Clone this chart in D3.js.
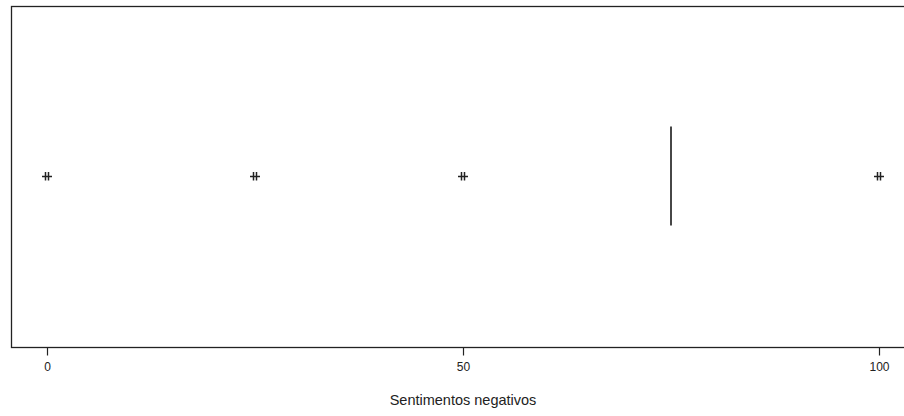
<!DOCTYPE html>
<html>
<head>
<meta charset="utf-8">
<script src="https://cdn.jsdelivr.net/npm/d3@7"></script>
<style>
  html, body { margin: 0; padding: 0; background: #fff; }
  svg { display: block; }
  text { font-family: "Liberation Sans", Arial, sans-serif; fill: #222; }
</style>
</head>
<body>
<svg id="chart" width="904" height="416"></svg>
<script>
// Data
const outliers = [0, 25, 50, 100];
const boxStats = [75, 75, 75, 75, 75]; // lower whisker, Q1, median, Q3, upper whisker
const tickValues = [0, 50, 100];
const xTitle = "Sentimentos negativos";

const W = 904, H = 416;
const svg = d3.select("#chart");

const frame = { left: 11, top: 6, bottom: 347, right: 912 };
const x = d3.scaleLinear().domain([0, 100]).range([47, 879]);
const yc = 176;          // box centre
const boxHalf = 49.5;    // half box height

// frame
svg.append("rect")
  .attr("x", frame.left + 0.5).attr("y", frame.top + 0.5)
  .attr("width", frame.right - frame.left).attr("height", frame.bottom - frame.top)
  .attr("fill", "none").attr("stroke", "#222").attr("stroke-width", 1.3);

// axis
const axis = d3.axisBottom(x).tickValues(tickValues).tickSize(8).tickPadding(7).tickFormat(d3.format("d"));
const gAxis = svg.append("g").attr("transform", `translate(0,${frame.bottom + 0.5})`).call(axis);
gAxis.select(".domain").remove();
gAxis.selectAll(".tick line").attr("stroke", "#222").attr("stroke-width", 1.2);
gAxis.selectAll(".tick text").attr("font-size", 12).style("fill", "#222");

// x title
svg.append("text")
  .attr("x", (x(0) + x(100)) / 2).attr("y", 405)
  .attr("text-anchor", "middle").attr("font-size", 14.5)
  .text(xTitle);

// degenerate box (Q1 = median = Q3)
const [lw, q1, med, q3, uw] = boxStats;
svg.append("rect")
  .attr("x", x(q1)).attr("y", yc - boxHalf)
  .attr("width", Math.max(0, x(q3) - x(q1))).attr("height", 2 * boxHalf)
  .attr("fill", "none").attr("stroke", "#333").attr("stroke-width", 1.2);
svg.append("line")
  .attr("x1", x(med)).attr("x2", x(med))
  .attr("y1", yc - boxHalf).attr("y2", yc + boxHalf)
  .attr("stroke", "#333").attr("stroke-width", 1.8);

// outlier markers
const gOut = svg.append("g").attr("stroke", "#222").attr("stroke-width", 1.5).attr("fill", "none");
outliers.forEach(v => {
  const cx = x(v);
  gOut.append("line").attr("x1", cx - 5).attr("x2", cx + 5).attr("y1", yc + 0.5).attr("y2", yc + 0.5);
  gOut.append("line").attr("x1", cx - 1.5).attr("x2", cx - 1.5).attr("y1", yc - 4).attr("y2", yc + 4.5);
  gOut.append("line").attr("x1", cx + 1.5).attr("x2", cx + 1.5).attr("y1", yc - 4).attr("y2", yc + 4.5);
});
</script>
</body>
</html>
